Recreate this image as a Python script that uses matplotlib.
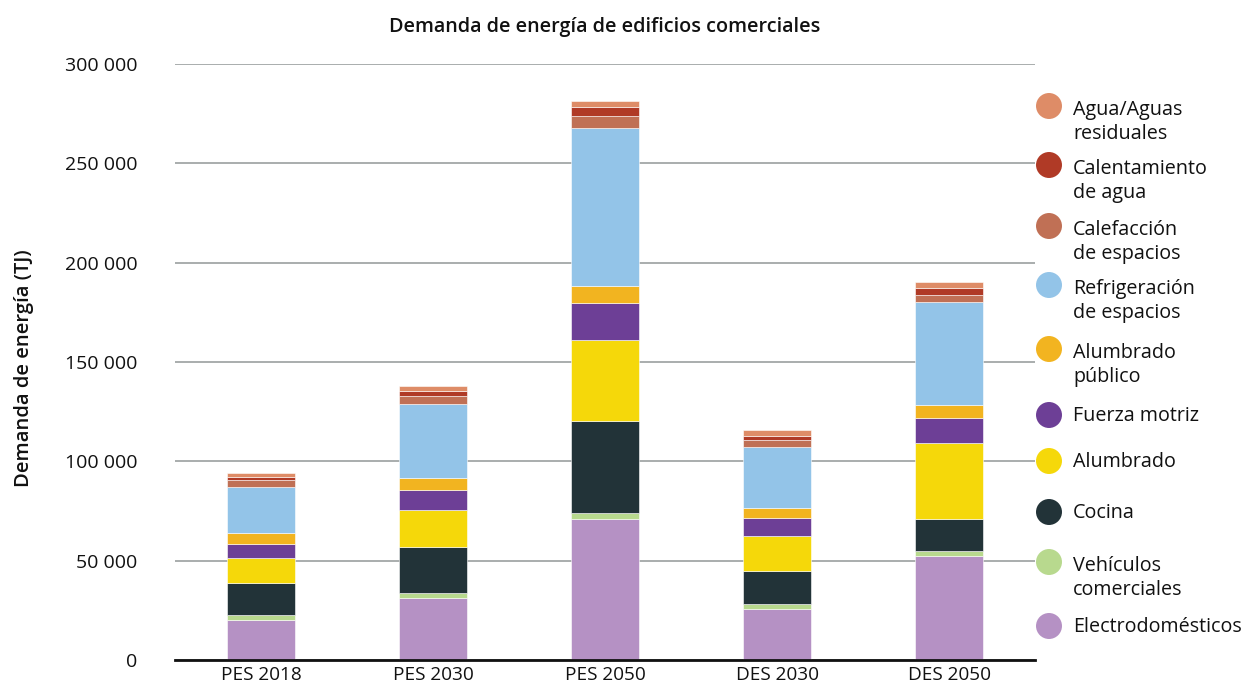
import matplotlib
matplotlib.use("Agg")
import matplotlib.pyplot as plt
import numpy as np

# Scenarios (x axis)
scenarios = ["PES 2018", "PES 2030", "PES 2050", "DES 2030", "DES 2050"]

# End-use energy demand per scenario (TJ), stacked bottom to top
electrodomesticos = [20000, 31200, 71000, 25500, 52300]
vehiculos = [2800, 2700, 3000, 2700, 2400]
cocina = [15800, 23000, 46500, 16800, 16400]
alumbrado = [12600, 18600, 40700, 17300, 38100]
fuerza_motriz = [7300, 9900, 18700, 9000, 12800]
alumbrado_publico = [5300, 6300, 8400, 5400, 6400]
refrigeracion = [23400, 37200, 79300, 30700, 51600]
calefaccion = [3200, 3800, 6400, 3300, 3600]
calentamiento = [1700, 2700, 4200, 2200, 3800]
agua = [2000, 2400, 3200, 2700, 3000]

series = [
    ("Electrodomésticos", electrodomesticos, "#B591C4"),
    ("Vehículos\ncomerciales", vehiculos, "#B8D98E"),
    ("Cocina", cocina, "#223338"),
    ("Alumbrado", alumbrado, "#F5D80A"),
    ("Fuerza motriz", fuerza_motriz, "#6D3F96"),
    ("Alumbrado\npúblico", alumbrado_publico, "#F2B420"),
    ("Refrigeración\nde espacios", refrigeracion, "#93C4E8"),
    ("Calefacción\nde espacios", calefaccion, "#C07055"),
    ("Calentamiento\nde agua", calentamiento, "#B03A26"),
    ("Agua/Aguas\nresiduales", agua, "#DE8C67"),
]

yticks = [0, 50000, 100000, 150000, 200000, 250000, 300000]
ytick_labels = ["0", "50 000", "100 000", "150 000", "200 000", "250 000", "300 000"]

plt.rcParams["font.family"] = ["Open Sans", "DejaVu Sans"]

W, H = 1244, 687
fig = plt.figure(figsize=(W / 100, H / 100), dpi=100)
ax = fig.add_axes([175 / W, 1 - 660 / H, (1035 - 175) / W, (660 - 64) / H])

x = np.arange(len(scenarios))
bottom = np.zeros(len(scenarios))
for name, vals, color in series:
    vals = np.array(vals, dtype=float)
    ax.bar(x, vals, width=0.4, bottom=bottom, color=color, edgecolor="white",
           linewidth=0.4, zorder=3)
    bottom += vals

ax.set_xlim(-0.5, 4.5)
ax.set_ylim(0, 300000)
ax.set_yticks(yticks)
ax.set_yticklabels(ytick_labels, fontsize=14, color="#111111")
ax.set_xticks(x)
ax.set_xticklabels(scenarios, fontsize=13.7, color="#111111")
ax.tick_params(axis="y", length=0, pad=27)
ax.tick_params(axis="x", length=0, pad=4)
ax.grid(axis="y", color="#A3A7A7", linewidth=1.3, zorder=0)
for s in ["left", "right", "top"]:
    ax.spines[s].set_visible(False)
ax.spines["bottom"].set_color("#111111")
ax.spines["bottom"].set_linewidth(2)
ax.spines["bottom"].set_zorder(4)

ax.set_ylabel("Demanda de energía (TJ)", fontsize=14.5, fontweight="semibold",
              color="#111111")
ax.yaxis.set_label_coords(-(175 - 24) / (1035 - 175), (660 - 368) / (660 - 64))
ax.yaxis.label.set_va("center")

fig.text(605 / W, 1 - 27 / H, "Demanda de energía de edificios comerciales",
         ha="center", va="center", fontsize=14.2, fontweight="semibold",
         color="#111111")

# Legend drawn as circles with labels on the right
legend_y = {
    "Agua/Aguas\nresiduales": 106,
    "Calentamiento\nde agua": 165,
    "Calefacción\nde espacios": 226,
    "Refrigeración\nde espacios": 285,
    "Alumbrado\npúblico": 349,
    "Fuerza motriz": 415,
    "Alumbrado": 461,
    "Cocina": 512,
    "Vehículos\ncomerciales": 562,
    "Electrodomésticos": 626,
}
lax = fig.add_axes([0, 0, 1, 1], facecolor="none")
lax.set_xlim(0, W)
lax.set_ylim(H, 0)
lax.axis("off")
for name, vals, color in series:
    yc = legend_y[name]
    lax.scatter([1049], [yc], s=350, color=color, edgecolors="none")
    two_lines = "\n" in name
    lax.text(1073, yc - (6 if two_lines else 9), name, ha="left", va="top",
             fontsize=14.2, color="#111111", linespacing=1.25)

fig.savefig("out.png", dpi=100)
